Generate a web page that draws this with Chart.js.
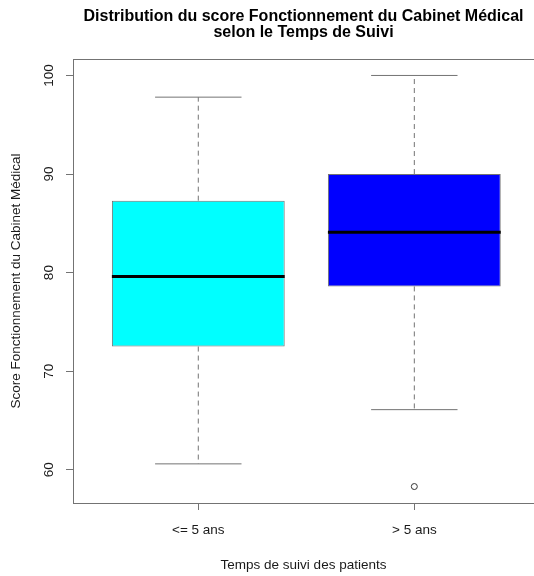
<!DOCTYPE html>
<html>
<head>
<meta charset="utf-8">
<script src="https://cdn.jsdelivr.net/npm/chart.js@4"></script>
<style>
  html, body { margin: 0; padding: 0; background: #fff; overflow: hidden; }
  #wrap { position: relative; width: 534px; height: 576px; }
</style>
</head>
<body>
<div id="wrap"><canvas id="box" width="534" height="576"></canvas></div>
<script>
// boxplot stats
const categories = ['<= 5 ans', '> 5 ans'];
const whiskerLow = [60.6, 66.1];
const q1 = [72.5, 78.6];
const median = [79.6, 84.1];
const q3 = [87.3, 90.0];
const whiskerHigh = [97.8, 100.0];
const outliers = [[], [58.3]];
const boxColors = ['#00ffff', '#0000ff'];
const yTicks = [60, 70, 80, 90, 100];
const yMin = 56.63, yMax = 101.67;
// the right edge of the plot box is cut off in the picture
const xMin = 0.42, xMax = 2.554;

const lineGrey = '#737373';
const textColor = '#1a1a1a';
const font = 'Liberation Sans, Arial, Helvetica, sans-serif';

function seg(x1, y1, x2, y2, opts) {
  return Object.assign({
    type: 'line',
    data: [{x: x1, y: y1}, {x: x2, y: y2}],
    borderColor: lineGrey,
    borderWidth: 1,
    pointRadius: 0,
    fill: false,
    order: 1,
  }, opts)
}

const datasets = [
  {
    type: 'bar',
    label: 'box',
    data: categories.map((c, i) => ({x: i + 1, y: [q1[i], q3[i]]})),
    backgroundColor: boxColors,
    borderColor: lineGrey,
    borderWidth: 1,
    borderSkipped: false,
    barPercentage: 0.8,
    categoryPercentage: 1,
    order: 3,
  },
]

categories.forEach((c, i) => {
  const x = i + 1
  // whiskers (dashed)
  datasets.push(seg(x, q3[i], x, whiskerHigh[i], {borderDash: [5, 4]}))
  datasets.push(seg(x, q1[i], x, whiskerLow[i], {borderDash: [5, 4]}))
  // staples
  datasets.push(seg(x - 0.2, whiskerHigh[i], x + 0.2, whiskerHigh[i]))
  datasets.push(seg(x - 0.2, whiskerLow[i], x + 0.2, whiskerLow[i]))
  // median
  datasets.push(seg(x - 0.4, median[i], x + 0.4, median[i], {borderColor: '#000', borderWidth: 3, order: 0}))
})

// outliers
datasets.push({
  type: 'line',
  label: 'outliers',
  data: outliers.flatMap((arr, i) => arr.map(v => ({x: i + 1, y: v}))),
  showLine: false,
  pointRadius: 3,
  pointStyle: 'circle',
  pointBackgroundColor: 'rgba(0,0,0,0)',
  pointBorderColor: '#333',
  pointBorderWidth: 1,
  order: 0,
})

const framePlugin = {
  id: 'frame',
  afterDraw(chart) {
    const {ctx, chartArea: a} = chart
    ctx.save()
    ctx.strokeStyle = lineGrey
    ctx.lineWidth = 1
    ctx.strokeRect(Math.round(a.left) + 0.5, Math.round(a.top) + 0.5,
      Math.round(a.right - a.left), Math.round(a.bottom - a.top))
    ctx.restore()
  }
}

Chart.defaults.font.family = font
Chart.defaults.color = textColor

new Chart(document.getElementById('box'), {
  type: 'line',
  data: {datasets},
  plugins: [framePlugin],
  options: {
    responsive: false,
    animation: false,
    devicePixelRatio: 1,
    layout: {padding: 0, autoPadding: false},
    plugins: {
      legend: {display: false},
      tooltip: {enabled: false},
      title: {
        display: true,
        fullSize: false,
        text: ['Distribution du score Fonctionnement du Cabinet Médical', 'selon le Temps de Suivi'],
        font: {size: 16, weight: 'bold', lineHeight: 1.0},
        color: '#000',
        padding: {top: 8.5, bottom: 18.5},
      },
    },
    scales: {
      x: {
        type: 'linear',
        min: xMin,
        max: xMax,
        offset: false,
        afterBuildTicks: s => { s.ticks = categories.map((c, i) => ({value: i + 1})) },
        afterFit: s => { s.height = 73 },
        ticks: {
          callback: v => categories[v - 1],
          font: {size: 13.5},
          padding: 12,
          maxRotation: 0,
        },
        grid: {display: true, drawOnChartArea: false, drawTicks: true, tickLength: 7, color: lineGrey, offset: false},
        border: {display: false},
        title: {display: true, text: 'Temps de suivi des patients', font: {size: 13.5}, padding: {top: 0, bottom: 3}},
      },
      y: {
        type: 'linear',
        min: yMin,
        max: yMax,
        afterBuildTicks: s => { s.ticks = yTicks.map(v => ({value: v})) },
        afterFit: s => { s.width = 73 },
        ticks: {
          font: {size: 13.5},
          minRotation: 90,
          maxRotation: 90,
          crossAlign: 'center',
          padding: 5,
        },
        grid: {display: true, drawOnChartArea: false, drawTicks: true, tickLength: 7, color: lineGrey},
        border: {display: false},
        title: {display: true, text: 'Score Fonctionnement du Cabinet Médical', font: {size: 13.5}, padding: {top: 8.5, bottom: 0}},
      },
    },
  },
})
</script>
</body>
</html>
